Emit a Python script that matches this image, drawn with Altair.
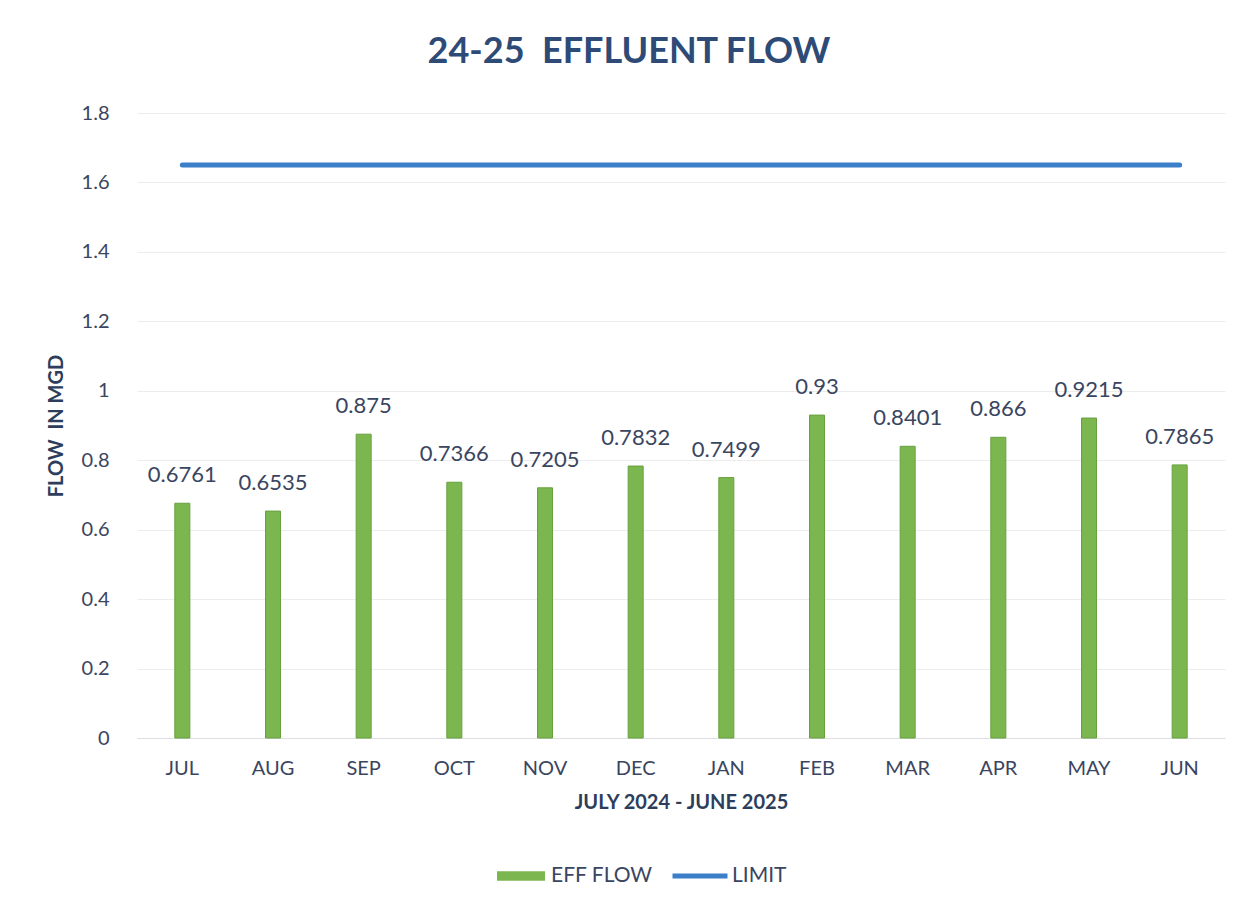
import altair as alt
import pandas as pd

months = ["JUL", "AUG", "SEP", "OCT", "NOV", "DEC", "JAN", "FEB", "MAR", "APR", "MAY", "JUN"]
eff_flow = [0.6761, 0.6535, 0.875, 0.7366, 0.7205, 0.7832, 0.7499, 0.93, 0.8401, 0.866, 0.9215, 0.7865]
limit = [1.65] * 12
y_ticks = [0, 0.2, 0.4, 0.6, 0.8, 1, 1.2, 1.4, 1.6, 1.8]

df = pd.DataFrame({
    "month": months,
    "flow": eff_flow,
    "limit": limit,
    "s1": ["EFF FLOW"] * 12,
    "s2": ["LIMIT"] * 12,
})

FONT = "Lato"
GREEN = "#7cb64f"
BLUE = "#3a7fc8"
TXT = "#3a4560"
NB = "\u00a0"

x = alt.X("month:N", sort=months, scale=alt.Scale(paddingInner=0, paddingOuter=0),
          axis=alt.Axis(title="JULY 2024 - JUNE 2025", labelAngle=0, ticks=False, tickSize=0,
                        labelPadding=20, labelFontSize=20, labelColor=TXT,
                        titleFontSize=20, titleFontWeight="bold", titleColor="#2c3e5c",
                        titlePadding=14, domain=True, domainColor="#dddddd", grid=False))
y = alt.Y("flow:Q", scale=alt.Scale(domain=[0, 1.8], nice=False),
          axis=alt.Axis(title="FLOW" + NB + NB + "IN MGD", values=y_ticks, format="~g",
                        ticks=False, tickSize=0, domain=False, labelPadding=28, labelFontSize=20,
                        labelColor=TXT, titleFontSize=20, titleFontWeight="bold",
                        titleColor="#2c3e5c", titlePadding=15, gridColor="#ececec", gridWidth=1))

base = alt.Chart(df)

bars = base.mark_bar(size=15, stroke="#66a040", strokeWidth=1).encode(
    x=x, y=y,
    fill=alt.Fill("s1:N", scale=alt.Scale(domain=["EFF FLOW"], range=[GREEN]),
                  legend=alt.Legend(title=None, orient="none", legendX=360, legendY=739,
                                    symbolType="M-1,-0.2L1,-0.2L1,0.2L-1,0.2Z", symbolSize=2304,
                                    symbolStrokeWidth=0, labelFontSize=21, labelColor=TXT,
                                    labelFont=FONT, padding=0, symbolOpacity=1, labelOffset=6)),
)

labels = base.mark_text(baseline="bottom", dy=-16, fontSize=22, color=TXT, font=FONT).encode(
    x=alt.X("month:N", sort=months), y="flow:Q", text=alt.Text("flow:Q", format="~g"),
)

line = base.mark_line(strokeWidth=5, strokeCap="round").encode(
    x=alt.X("month:N", sort=months), y="limit:Q",
    stroke=alt.Stroke("s2:N", scale=alt.Scale(domain=["LIMIT"], range=[BLUE]),
                      legend=alt.Legend(title=None, orient="none", legendX=533, legendY=733,
                                        symbolType="stroke", symbolSize=3025, symbolStrokeWidth=5,
                                        labelFontSize=21, labelColor=TXT, labelFont=FONT,
                                        padding=0, labelOffset=2)),
)

chart = alt.layer(bars, labels, line).properties(
    width=1088, height=625,
    title=alt.Title("24-25" + NB + NB + "EFFLUENT FLOW", fontSize=36, font=FONT, fontWeight="bold",
                    color="#2d4b76", anchor="middle", dx=-52, offset=32),
    autosize=alt.AutoSizeParams(type="none"),
    padding={"left": 129, "top": 105, "right": 21, "bottom": 163},
).configure_view(stroke=None).configure_axis(labelFont=FONT, titleFont=FONT)

chart.save("out.html", embed_options={"renderer": "svg", "actions": False})
